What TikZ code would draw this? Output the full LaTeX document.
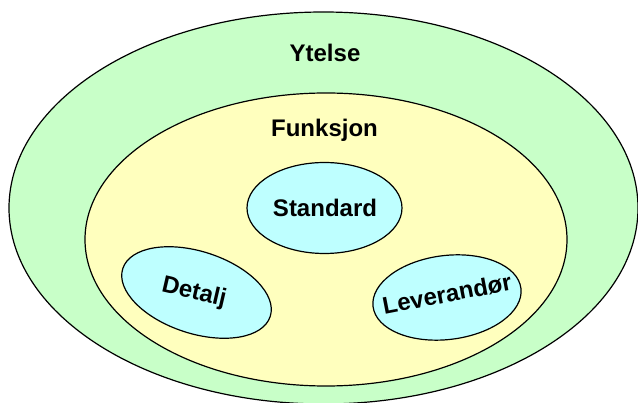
\documentclass[tikz,border=0pt]{standalone}
\usepackage{fontspec}
\setmainfont{Liberation Sans}
\usetikzlibrary{shapes.geometric}
\definecolor{outerfill}{HTML}{C8FFC8}
\definecolor{midfill}{HTML}{FFFFBE}
\definecolor{innerfill}{HTML}{BEFFFF}
\begin{document}
\begin{tikzpicture}[x=1pt,y=-1pt,
  ring/.style={ellipse, draw=black, line width=1.2pt, inner sep=0pt},
  lbl/.style={font=\fontsize{24}{28}\selectfont\bfseries, inner sep=0pt}]
\useasboundingbox (0,0) rectangle (638,403);
\clip (0,0) rectangle (638,403);
\node[ring, fill=outerfill, minimum width=629, minimum height=392] (ytelse) at (323.5,208) {};
\node[ring, fill=midfill, minimum width=482, minimum height=293] (funksjon) at (326,239.5) {};
\node[ring, fill=innerfill, minimum width=155, minimum height=91] (standard) at (324.5,208) {};
\node[ring, fill=innerfill, minimum width=155, minimum height=82, rotate=-18] (detalj) at (196.5,292.5) {};
\node[ring, fill=innerfill, minimum width=149, minimum height=84, rotate=7] (leverandor) at (447,297.5) {};
\node[lbl, anchor=base] (tytelse) at (325,62) {Ytelse};
\node[lbl, anchor=base] (tfunksjon) at (324.5,137) {Funksjon};
\node[lbl, anchor=base] (tstandard) at (325,217) {Standard};
\node[lbl, rotate=-13] (tdetalj) at (194,293) {Detalj};
\node[lbl, rotate=11] (tleverandor) at (447,294) {Leverandør};
\end{tikzpicture}
\end{document}
